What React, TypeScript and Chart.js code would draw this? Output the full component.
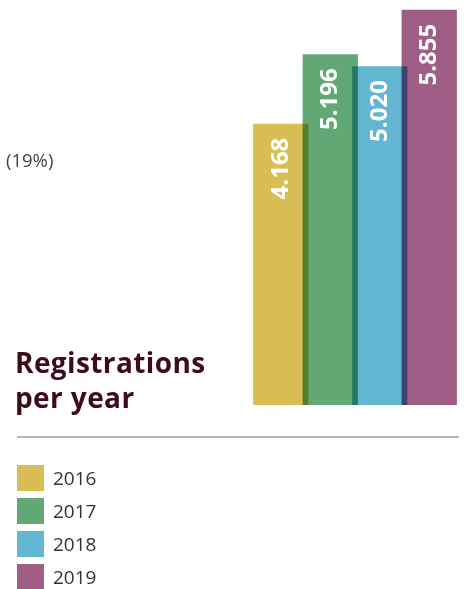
import React, { useEffect, useRef } from "react";
import { Chart, registerables } from "chart.js";

Chart.register(...registerables);

const years = ["2016", "2017", "2018", "2019"];
const registrations = [4168, 5196, 5020, 5855];
const barColors = ["#d9bd55", "#62a874", "#63b6d1", "#9e5e85"];
const titleLines = ["Registrations", "per year"];
const sideNote = "(19%)";

const fmt = (v: number) => String(v).replace(/\B(?=(\d{3})+(?!\d))/g, ".");

export default function App() {
  const ref = useRef<HTMLCanvasElement | null>(null);

  useEffect(() => {
    document.body.style.margin = "0";
    const canvas = ref.current!;
    const multiply = {
      id: "multiply",
      beforeDatasetsDraw(chart: any) {
        chart.ctx.save();
        chart.ctx.globalCompositeOperation = "multiply";
      },
      afterDatasetsDraw(chart: any) {
        chart.ctx.restore();
        const ctx = chart.ctx;
        const meta = chart.getDatasetMeta(0);
        meta.data.forEach((el: any, i: number) => {
          ctx.save();
          ctx.translate(el.x, el.y + 14);
          ctx.rotate(-Math.PI / 2);
          ctx.fillStyle = "#ffffff";
          ctx.font = "bold 24px 'Open Sans'";
          ctx.textAlign = "right";
          ctx.textBaseline = "middle";
          ctx.fillText(fmt(registrations[i]), 0, 0);
          ctx.restore();
        });
      },
    };
    const chart = new Chart(canvas, {
      type: "bar",
      data: {
        labels: years,
        datasets: [
          {
            data: registrations,
            backgroundColor: barColors,
            borderWidth: 0,
            barPercentage: 1.117,
            categoryPercentage: 1,
            clip: false,
          },
        ],
      },
      options: {
        responsive: false,
        animation: false,
        devicePixelRatio: 1,
        layout: { padding: { left: 256, right: 10, top: 0, bottom: 184 } },
        plugins: { legend: { display: false }, tooltip: { enabled: false } },
        scales: {
          x: { display: false },
          y: { display: false, min: 0, max: 6000 },
        },
      },
      plugins: [multiply],
    });
    return () => chart.destroy();
  }, []);

  return (
    <div style={{ position: "relative", width: 464, height: 589, overflow: "hidden", background: "#fff", fontFamily: "'Open Sans', sans-serif" }}>
      <canvas ref={ref} width={464} height={589} style={{ position: "absolute", left: 0, top: 0, width: 464, height: 589 }} />
      <div style={{ position: "absolute", left: 6, top: 148, fontSize: 18.5, lineHeight: "24px", color: "#444" }}>{sideNote}</div>
      <div style={{ position: "absolute", left: 15, top: 345, fontSize: 28, lineHeight: "35px", fontWeight: 700, letterSpacing: 0.4, color: "#3d0c17" }}>
        {titleLines.map((t) => (
          <div key={t}>{t}</div>
        ))}
      </div>
      <div style={{ position: "absolute", left: 17, top: 436, width: 442, height: 2, background: "#b5b5b5" }} />
      <div style={{ position: "absolute", left: 17, top: 465 }}>
        {years.map((y, i) => (
          <div key={y} style={{ display: "flex", alignItems: "center", height: 26, marginBottom: 7 }}>
            <div style={{ width: 27, height: 26, background: barColors[i] }} />
            <span style={{ marginLeft: 9, fontSize: 19, color: "#333" }}>{y}</span>
          </div>
        ))}
      </div>
    </div>
  );
}
